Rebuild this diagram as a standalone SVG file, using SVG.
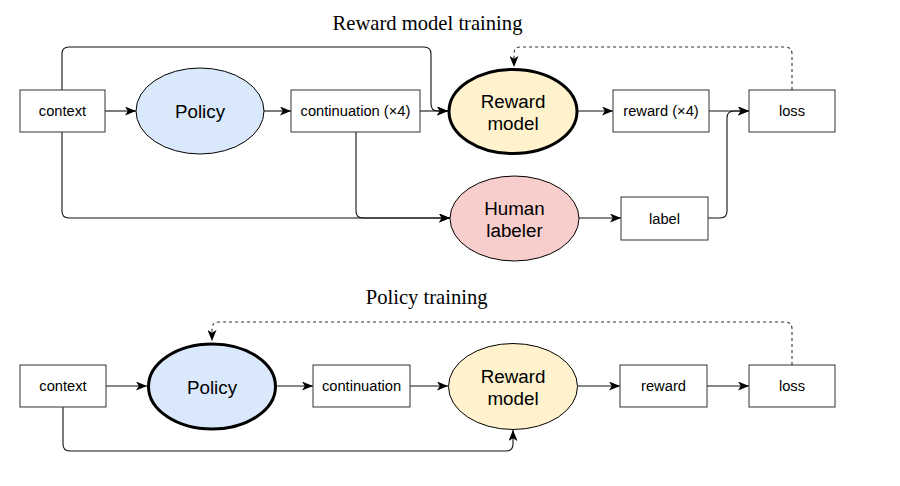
<svg xmlns="http://www.w3.org/2000/svg" width="900" height="486" viewBox="0 0 900 486">
<defs>
<marker id="arr" markerWidth="11" markerHeight="9" refX="11" refY="4.5" orient="auto" markerUnits="userSpaceOnUse">
<path d="M0,0 L11,4.5 L0,9 L2.8,4.5 z" fill="#000"/>
</marker>
</defs>
<style>
.box{fill:#fff;stroke:#333;stroke-width:1}
.ell{stroke:#000;stroke-width:1}
.thick{stroke-width:3}
.lbl{font-family:"Liberation Sans",Arial,sans-serif;font-size:14.7px;fill:#000;text-anchor:middle;dominant-baseline:central}
.big{font-family:"Liberation Sans",Arial,sans-serif;font-size:18.8px;fill:#000;text-anchor:middle}
.title{font-family:"Liberation Serif","Times New Roman",serif;font-size:20.6px;fill:#000;text-anchor:middle}
.c{fill:none;stroke:#111;stroke-width:1.1;marker-end:url(#arr)}
.d{fill:none;stroke:#333;stroke-width:1.1;stroke-dasharray:3,3;marker-end:url(#arr)}
</style>
<rect width="900" height="486" fill="#fff"/>
<text class="title" x="427.5" y="29.5">Reward model training</text>
<text class="title" x="426.7" y="304">Policy training</text>

<g id="connectors">
<path class="c" d="M105,111 H136"/>
<path class="c" d="M264,111 H291"/>
<path class="c" d="M420,111 H448"/>
<path class="c" d="M62,90 V54 Q62,47 69,47 H424 Q431,47 431,54 V104 Q431,111 438,111 H448"/>
<path class="c" d="M578,111 H613"/>
<path class="c" d="M709,111 H749"/>
<path class="c" d="M708,218 H720 Q727,218 727,211 V118 Q727,111 734,111 H749"/>
<path class="c" d="M62,132 V211 Q62,218 69,218 H450"/>
<path class="c" d="M356,132 V211 Q356,218 363,218 H450"/>
<path class="c" d="M579,218 H621"/>
<path class="d" d="M792,90 V54 Q792,47 785,47 H521 Q514,47 514,54 V67"/>

<path class="c" d="M106,386 H147"/>
<path class="c" d="M277,386 H313"/>
<path class="c" d="M410,386 H448"/>
<path class="c" d="M578,386 H620"/>
<path class="c" d="M707,386 H749"/>
<path class="c" d="M63,407 V444 Q63,451 70,451 H506 Q513,451 513,444 V430"/>
<path class="d" d="M792,365 V329 Q792,322 785,322 H219 Q212,322 212,329 V341"/>
</g>

<g id="context1"><rect class="box" x="20" y="90" width="85" height="42"/><text class="lbl" x="62.5" y="111">context</text></g>
<g id="policy1"><ellipse class="ell" cx="200" cy="111" rx="64" ry="43" fill="#dae8fc"/><text class="big" x="200" y="118">Policy</text></g>
<g id="continuation1"><rect class="box" x="291" y="90" width="129" height="42"/><text class="lbl" x="355.5" y="111">continuation (×4)</text></g>
<g id="rewardmodel1"><ellipse class="ell thick" cx="513" cy="111.5" rx="64" ry="42" fill="#fff2cc"/><text class="big" x="513" y="107.5">Reward</text><text class="big" x="513" y="130">model</text></g>
<g id="reward1"><rect class="box" x="613" y="90" width="96" height="42"/><text class="lbl" x="661" y="111">reward (×4)</text></g>
<g id="loss1"><rect class="box" x="749" y="90" width="86" height="42"/><text class="lbl" x="792" y="111">loss</text></g>
<g id="human"><ellipse class="ell" cx="514.5" cy="218.5" rx="64.5" ry="42.5" fill="#f8cecc"/><text class="big" x="514.5" y="214.5">Human</text><text class="big" x="514.5" y="237">labeler</text></g>
<g id="label"><rect class="box" x="621" y="197" width="87" height="43"/><text class="lbl" x="664.5" y="218.5">label</text></g>

<g id="context2"><rect class="box" x="20" y="365" width="86" height="42"/><text class="lbl" x="63" y="386">context</text></g>
<g id="policy2"><ellipse class="ell thick" cx="212" cy="386.5" rx="63.5" ry="42.5" fill="#dae8fc"/><text class="big" x="212" y="393.5">Policy</text></g>
<g id="continuation2"><rect class="box" x="313" y="365" width="97" height="42"/><text class="lbl" x="361.5" y="386">continuation</text></g>
<g id="rewardmodel2"><ellipse class="ell" cx="513" cy="386.5" rx="64.5" ry="43" fill="#fff2cc"/><text class="big" x="513" y="382.5">Reward</text><text class="big" x="513" y="405">model</text></g>
<g id="reward2"><rect class="box" x="620" y="365" width="87" height="42"/><text class="lbl" x="663.5" y="386">reward</text></g>
<g id="loss2"><rect class="box" x="749" y="365" width="86" height="42"/><text class="lbl" x="792" y="386">loss</text></g>
</svg>
